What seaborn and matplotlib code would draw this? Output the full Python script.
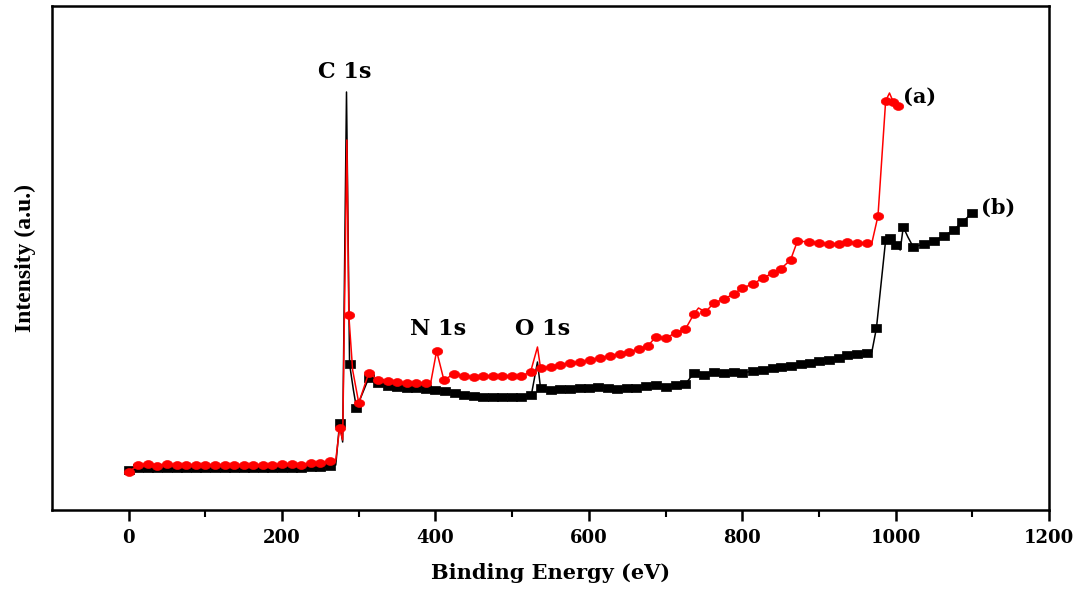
import numpy as np
import pandas as pd
import matplotlib
matplotlib.use("Agg")
import matplotlib.pyplot as plt
import seaborn as sns

# ---- data (intensity in arbitrary units) ----
energy_a = [0, 12.5, 25, 37.5, 50, 62.5, 75, 87.5, 100, 112.5, 125, 137.5, 150, 162.5,
            175, 187.5, 200, 212.5, 225, 237.5, 250, 262.5, 270, 275, 279, 284.5, 287,
            292, 300, 313, 325, 338, 350, 363, 375, 388, 394, 401.5, 411, 424, 437, 450,
            462, 475, 487, 500, 512, 524, 533, 537, 550, 563, 576, 589, 602, 615, 627,
            640, 652, 665, 677, 687, 700, 713, 726, 737, 743, 752, 763, 776, 789, 800,
            814, 827, 840, 850, 863, 872, 887, 900, 913, 926, 937, 950, 963, 969, 977,
            987, 992, 997, 1003]
intensity_a = [38, 45, 46, 44, 46, 45, 45, 45, 45, 45, 45, 45, 45, 45,
               45, 45, 46, 46, 45, 47, 47, 49, 50, 82, 70, 370, 195,
               140, 107, 137, 130, 129, 128, 127, 127, 127, 128, 159, 130, 136, 134, 133,
               134, 134, 134, 134, 134, 138, 163, 142, 143, 145, 147, 148, 150, 152, 154,
               156, 158, 161, 164, 173, 172, 177, 181, 196, 202, 198, 207, 211, 216, 222,
               226, 232, 237, 241, 250, 269, 268, 267, 266, 266, 268, 267, 267, 267, 294,
               409, 417, 408, 404]
unmarked_a = [270, 279, 284.5, 292, 394, 533, 743, 969, 992]

energy_b = [0, 12.5, 25, 37.5, 50, 62.5, 75, 87.5, 100, 112.5, 125, 137.5, 150, 162.5,
            175, 187.5, 200, 212.5, 225, 237.5, 250, 262.5, 270, 275, 279, 284, 288,
            293, 297, 313, 325, 338, 350, 363, 375, 388, 400, 413, 425, 437, 450, 462,
            475, 487, 500, 512, 525, 533, 537, 550, 562, 575, 588, 600, 612, 625, 637,
            650, 662, 675, 687, 700, 713, 726, 737, 742, 750, 763, 776, 789, 800, 814,
            827, 840, 850, 863, 876, 889, 900, 913, 926, 937, 950, 963, 969, 975, 987,
            993, 1000, 1006, 1010, 1016, 1023, 1037, 1050, 1063, 1076, 1087, 1100]
intensity_b = [40, 42, 42, 42, 42, 42, 42, 42, 42, 42, 42, 42, 42, 42,
               42, 42, 42, 42, 42, 43, 43, 44, 45, 87, 68, 418, 146,
               120, 102, 132, 127, 124, 123, 122, 122, 121, 120, 119, 117, 115, 114, 113,
               113, 113, 113, 113, 115, 148, 122, 120, 121, 121, 122, 122, 123, 122, 121,
               122, 122, 124, 125, 123, 125, 126, 137, 139, 135, 138, 137, 138, 137, 139,
               140, 142, 143, 144, 146, 147, 149, 150, 152, 155, 156, 157, 158, 182, 270,
               272, 265, 260, 283, 273, 263, 266, 269, 274, 280, 288, 297]
unmarked_b = [270, 279, 284, 293, 533, 742, 969, 1006, 1016]

peak_labels = ["C 1s", "N 1s", "O 1s"]
peak_label_pos = [(281, 438), (404, 181), (540, 181)]
series_labels = ["(a)", "(b)"]
series_label_pos = [(1010, 413), (1111, 302)]

x_ticks = [0, 200, 400, 600, 800, 1000, 1200]

# ---- marker shapes (horizontally stretched, as in the reference) ----
_t = np.linspace(0, 2 * np.pi, 40)
ellipse_marker = np.column_stack([np.cos(_t), 0.75 * np.sin(_t)])
rect_marker = np.array([[-1, -0.75], [1, -0.75], [1, 0.75], [-1, 0.75], [-1, -0.75]])

# ---- figure ----
sns.set_theme(style="ticks")
plt.rcParams["font.family"] = ["DejaVu Serif", "DejaVu Sans"]

fig = plt.figure(figsize=(10.89, 5.89), dpi=100)
ax = fig.add_axes([52 / 1089, 1 - 510 / 589, (1049 - 52) / 1089, (510 - 6) / 589])

df_a = pd.DataFrame({"energy": energy_a, "intensity": intensity_a})
df_b = pd.DataFrame({"energy": energy_b, "intensity": intensity_b})
mark_a = [i for i, e in enumerate(energy_a) if e not in unmarked_a]
mark_b = [i for i, e in enumerate(energy_b) if e not in unmarked_b]

sns.lineplot(data=df_b, x="energy", y="intensity", ax=ax, color="black",
             linewidth=1.1, marker=rect_marker, markersize=7, markevery=mark_b,
             markeredgecolor="black", markerfacecolor="black", markeredgewidth=0.5,
             estimator=None, sort=False)
sns.lineplot(data=df_a, x="energy", y="intensity", ax=ax, color="#ff0000",
             linewidth=1.1, marker=ellipse_marker, markersize=7.5, markevery=mark_a,
             markeredgecolor="#ff0000", markerfacecolor="#ff0000", markeredgewidth=0.5,
             estimator=None, sort=False)

ax.set_xlim(-100, 1200)
ax.set_ylim(0, 504)
ax.set_xticks(x_ticks)
ax.set_xticklabels([str(t) for t in x_ticks], fontsize=13, fontweight="bold",
                   family="DejaVu Serif")
ax.set_xticks(np.arange(100, 1200, 200), minor=True)
ax.set_yticks([])
ax.tick_params(axis="x", which="major", direction="out", length=8, width=1.8,
               pad=6, color="black", labelcolor="black", top=False)
ax.tick_params(axis="x", which="minor", direction="out", length=5, width=1.5,
               color="black", top=False)
for s in ax.spines.values():
    s.set_linewidth(1.8)
    s.set_color("black")
    s.set_visible(True)

ax.set_xlabel("Binding Energy (eV)", fontsize=15, fontweight="bold",
              family="DejaVu Serif", color="black")
ax.xaxis.set_label_coords(0.5, -0.105)
ax.set_ylabel("Intensity (a.u.)", fontsize=17, fontweight="bold",
              family="Liberation Serif", color="black", va="center")
ax.yaxis.set_label_coords(-0.027, 0.5)

for lab, (x, y) in zip(peak_labels, peak_label_pos):
    ax.text(x, y, lab, fontsize=16, fontweight="bold", ha="center", va="center",
            family="DejaVu Serif", color="black")
for lab, (x, y) in zip(series_labels, series_label_pos):
    ax.text(x, y, lab, fontsize=15, fontweight="bold", ha="left", va="center",
            family="DejaVu Serif", color="black")

fig.savefig("out.png", dpi=100, facecolor="white")
